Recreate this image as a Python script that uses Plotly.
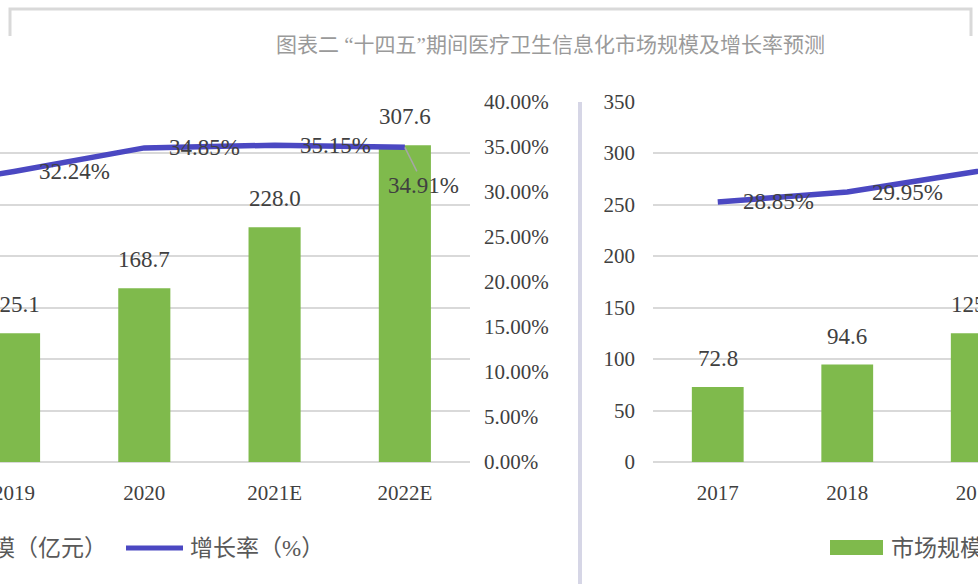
import plotly.graph_objects as go

# ---------------- data ----------------
years = ["2017", "2018", "2019", "2020", "2021E", "2022E"]
market_size = [72.8, 94.6, 125.1, 168.7, 228.0, 307.6]
growth_rate = [28.85, 29.95, 32.24, 34.85, 35.15, 34.91]
size_labels = ["72.8", "94.6", "125.1", "168.7", "228.0", "307.6"]
rate_labels = ["28.85%", "29.95%", "32.24%", "34.85%", "35.15%", "34.91%"]
size_ticks = [0, 50, 100, 150, 200, 250, 300, 350]
rate_ticks = [0, 5, 10, 15, 20, 25, 30, 35, 40]
rate_tick_text = ["0.00%", "5.00%", "10.00%", "15.00%", "20.00%",
                  "25.00%", "30.00%", "35.00%", "40.00%"]
legend_names = ["市场规模（亿元）", "增长率（%）"]
title_text = "图表二 “十四五”期间医疗卫生信息化市场规模及增长率预测"

# ---------------- style ----------------
W, H = 978, 584
GREEN = "#7FBA4C"
BLUE = "#4B48C2"
GRID = "#D9D9D9"
TXT = "#404040"
SERIF = "Liberation Serif, Noto Sans CJK SC"
FS = 21
LFS = 23


def fx(p):
    return p / W


def fy(p):
    return 1 - p / H


ydom = [fy(462), fy(101.5)]

fig = go.Figure()
panels = [("x", "y", "y2"), ("x2", "y3", "y4")]
for xa, yb, yl in panels:
    fig.add_trace(go.Bar(x=years, y=market_size, xaxis=xa, yaxis=yb,
                         marker=dict(color=GREEN, line=dict(width=0)),
                         width=0.4, name=legend_names[0], showlegend=False,
                         hoverinfo="skip"))
    fig.add_trace(go.Scatter(x=years, y=growth_rate, xaxis=xa, yaxis=yl,
                             mode="lines", line=dict(color=BLUE, width=5.5),
                             name=legend_names[1], showlegend=False,
                             hoverinfo="skip"))

tickfont = dict(family=SERIF, size=FS, color=TXT)

fig.update_layout(
    template="none",
    width=W, height=H,
    margin=dict(l=0, r=0, t=0, b=0),
    paper_bgcolor="white", plot_bgcolor="rgba(0,0,0,0)",
    showlegend=False,
    barmode="group",
    xaxis=dict(domain=[0, fx(470)], range=[2 - 14 / 130, 5.5], type="category",
               anchor="y", ticks="", showgrid=False, showline=False,
               zeroline=False, tickfont=tickfont, ticklabelstandoff=16,
               automargin=False),
    yaxis=dict(domain=ydom, range=[0, 350], tickvals=size_ticks,
               showticklabels=False, ticks="", showgrid=True, gridcolor=GRID,
               gridwidth=2, zeroline=True, zerolinecolor=GRID, zerolinewidth=2,
               showline=False, anchor="x", automargin=False),
    yaxis2=dict(overlaying="y", side="right", anchor="x", range=[0, 40],
                tickvals=rate_ticks, ticktext=rate_tick_text,
                ticks="", showgrid=False, zeroline=False, showline=False,
                tickfont=tickfont, ticklabelstandoff=13, automargin=False),
    xaxis2=dict(domain=[fx(653), 1], range=[-0.5, -0.5 + 325 / 129.5],
                type="category", anchor="y3", ticks="", showgrid=False,
                showline=False, zeroline=False, tickfont=tickfont,
                ticklabelstandoff=16, automargin=False),
    yaxis3=dict(domain=ydom, range=[0, 350], tickvals=size_ticks, anchor="x2",
                ticks="", showgrid=True, gridcolor=GRID, gridwidth=2,
                zeroline=True, zerolinecolor=GRID, zerolinewidth=2,
                showline=False, tickfont=tickfont, ticklabelstandoff=17,
                automargin=False),
    yaxis4=dict(overlaying="y3", anchor="x2", range=[0, 40], visible=False),
)

annotations = []
lblfont = dict(family=SERIF, size=LFS, color=TXT)
for xa, yb, yl in panels:
    for i, yr in enumerate(years):
        # category index position (years look numeric, so use their index)
        annotations.append(dict(x=i, y=market_size[i], xref=xa, yref=yb,
                                text=size_labels[i], showarrow=False,
                                yanchor="bottom", yshift=14, font=lblfont))
        if i == len(years) - 1:
            annotations.append(dict(x=i, y=growth_rate[i], xref=xa, yref=yl,
                                    text=rate_labels[i], showarrow=True,
                                    arrowhead=0, arrowwidth=1.5,
                                    arrowcolor="#A6A6A6", ax=19, ay=38,
                                    font=lblfont))
        else:
            annotations.append(dict(x=i, y=growth_rate[i], xref=xa, yref=yl,
                                    text=rate_labels[i], showarrow=False,
                                    xanchor="left", xshift=23,
                                    yanchor="middle", font=lblfont))

legfont = dict(family=SERIF, size=23, color="#595959")
# left-panel legend fragment
annotations.append(dict(x=fx(109), y=fy(548), xref="paper", yref="paper",
                        text=legend_names[0], showarrow=False,
                        xanchor="right", yanchor="middle", font=legfont))
annotations.append(dict(x=fx(188), y=fy(548), xref="paper", yref="paper",
                        text=legend_names[1], showarrow=False,
                        xanchor="left", yanchor="middle", font=legfont))
# right-panel legend fragment
annotations.append(dict(x=fx(889), y=fy(548), xref="paper", yref="paper",
                        text=legend_names[0], showarrow=False,
                        xanchor="left", yanchor="middle", font=legfont))
# title
annotations.append(dict(x=fx(550), y=fy(45), xref="paper", yref="paper",
                        text=title_text, showarrow=False,
                        xanchor="center", yanchor="middle",
                        font=dict(family=SERIF, size=21, color="#9A9A9A")))

shapes = [
    dict(type="line", xref="paper", yref="paper", x0=fx(126), x1=fx(183),
         y0=fy(548), y1=fy(548), line=dict(color=BLUE, width=5)),
    dict(type="rect", xref="paper", yref="paper", x0=fx(830), x1=fx(883),
         y0=fy(555), y1=fy(540), fillcolor=GREEN, line=dict(width=0)),
    dict(type="line", xref="paper", yref="paper", x0=fx(580), x1=fx(580),
         y0=fy(102), y1=0, line=dict(color="#D6D6E6", width=4)),
    dict(type="path", xref="paper", yref="paper",
         path=f"M {fx(10)},{fy(36)} L {fx(10)},{fy(9)} L {fx(971)},{fy(9)} L {fx(971)},{fy(36)}",
         line=dict(color=GRID, width=3)),
]

fig.update_layout(annotations=annotations, shapes=shapes)

fig.write_html("out.html", config={"displayModeBar": False},
               post_script="document.body.style.margin='0';")
